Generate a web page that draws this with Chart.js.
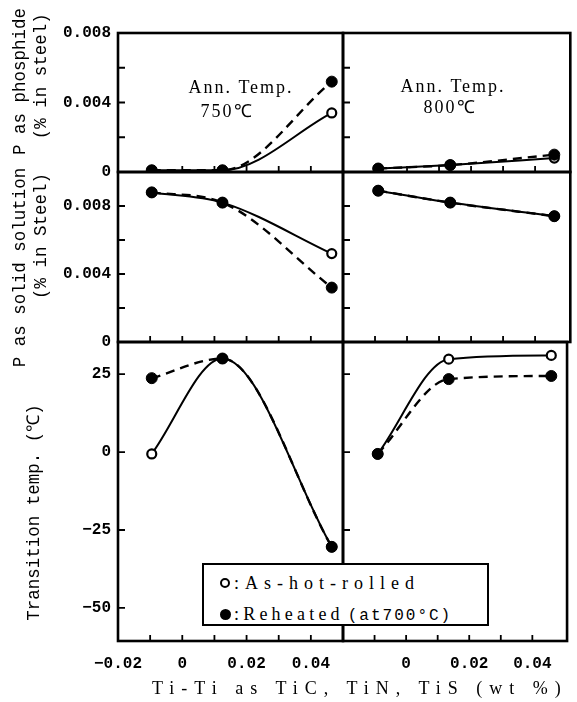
<!DOCTYPE html>
<html>
<head>
<meta charset="utf-8">
<script src="https://cdn.jsdelivr.net/npm/chart.js@4.4.0/dist/chart.umd.min.js"></script>
<style>
  html, body { margin: 0; padding: 0; background: #fff; }
  #wrap { position: relative; width: 577px; height: 702px; overflow: hidden; }
  #wrap canvas { position: absolute; left: 0; top: 0; }
  #legend { position: absolute; left: 202px; top: 563px; width: 287px; height: 63px; box-sizing: border-box;
            border: 2.5px solid #000; background: #fff; z-index: 5; }
  #legend .mk { position: absolute; border-radius: 50%; box-sizing: border-box; }
  #legend .tx { position: absolute; white-space: nowrap; font-family: "Liberation Serif", serif; font-size: 18px; color: #000; line-height: 20px; }
  #xtitle { position: absolute; left: 152px; top: 678px; white-space: nowrap; font-family: "Liberation Serif", serif;
            font-size: 18px; letter-spacing: 7px; color: #000; z-index: 5; line-height: 20px; }
</style>
</head>
<body>
<div id="wrap">
  <canvas id="tl" width="577" height="702"></canvas>
  <canvas id="tr" width="577" height="702"></canvas>
  <canvas id="ml" width="577" height="702"></canvas>
  <canvas id="mr" width="577" height="702"></canvas>
  <canvas id="bl" width="577" height="702"></canvas>
  <canvas id="br" width="577" height="702"></canvas>
  <div id="legend">
    <span class="mk" style="left:16px; top:13px; width:10px; height:10px; border:2.5px solid #000; background:#fff;"></span>
    <span class="tx" style="left:30px; top:7.5px; letter-spacing:6px;">:As-hot-rolled</span>
    <span class="mk" style="left:16px; top:43.5px; width:11px; height:11px; background:#000;"></span>
    <span class="tx" style="left:30px; top:38.5px; letter-spacing:4.2px;">:Reheated<span style="font-family:'Liberation Mono',monospace; font-size:16px; letter-spacing:2px; margin-left:4px;">(at700°C)</span></span>
  </div>
  <div id="xtitle">Ti-Ti as TiC, TiN, TiS (wt %)</div>
</div>
<script>
// Ti-Ti content (wt %) of the three steels
const xLeft = [-0.0095, 0.0125, 0.0465];
const xRight = [-0.009, 0.0135, 0.046];

// P as phosphide (% in steel)
const phosLeftHot = [0.0001, 0.0001, 0.0034];
const phosLeftReheat = [0.0001, 0.0001, 0.0052];
const phosRightHot = [0.0002, 0.0004, 0.0008];
const phosRightReheat = [0.0002, 0.0004, 0.001];

// P as solid solution (% in steel)
const solLeftHot = [0.0088, 0.0082, 0.0052];
const solLeftReheat = [0.0088, 0.0082, 0.0032];
const solRightHot = [0.0089, 0.0082, 0.0074];
const solRightReheat = [0.0089, 0.0082, 0.0074];

// Transition temp. (C)
const transLeftHot = [-0.6, 30, -30.4];
const transLeftReheat = [23.7, 30, -30.4];
const transRightHot = [-0.6, 29.8, 31];
const transRightReheat = [-0.6, 23.4, 24.4];

// ticks and tick labels
const xTicks = [-0.02, -0.01, 0, 0.01, 0.02, 0.03, 0.04, 0.05];
const xLabelsLeft = [-0.02, 0, 0.02, 0.04];
const xLabelsRight = [0, 0.02, 0.04];
const pTicks = [0, 0.002, 0.004, 0.006, 0.008];
const pLabels = [0, 0.004, 0.008];
const tTicks = [-50, -25, 0, 25];
const tLabels = [-50, -25, 0, 25];

const W = 577, H = 702;
const has = (arr, v) => arr.some(a => Math.abs(a - v) < 1e-9);
const minus = s => s.replace('-', '\u2212');

const cols = {
  left: { x0: 118, x1: 343, min: -0.02, max: 0.05, labels: xLabelsLeft },
  right: { x0: 343, x1: 572, min: -0.02, max: 0.051, labels: xLabelsRight }
};
const rows = {
  top: { y0: 33, y1: 172, min: 0, max: 0.008, ticks: pTicks, labels: pLabels,
         fmt: v => v === 0 ? '0' : v.toFixed(3), title: ['    P as phosphide', '     (% in steel)'] },
  mid: { y0: 172, y1: 342, min: 0, max: 0.01, ticks: pTicks, labels: pLabels,
         fmt: v => v === 0 ? '0' : v.toFixed(3), title: ['P as solid solution  ', '    (% in Steel)'] },
  bot: { y0: 342, y1: 641, min: -60.6, max: 35.3, ticks: tTicks, labels: tLabels,
         fmt: v => minus(String(v)), title: ['Transition temp. (\u2103)    '] }
};

const framePlugin = {
  id: 'panelFrame',
  beforeDatasetsDraw(chart, args, opts) {
    const { ctx, chartArea: a } = chart;
    const x = chart.scales.x, y = chart.scales.y;
    ctx.save();
    ctx.strokeStyle = '#000';
    ctx.lineWidth = 2.6;
    ctx.strokeRect(a.left, a.top, a.right - a.left, a.bottom - a.top);
    // inward tick marks
    ctx.lineWidth = 1.8;
    ctx.beginPath();
    x.ticks.forEach(t => {
      const px = x.getPixelForValue(t.value);
      if (px < a.left + 5 || px > a.right - 5) return;
      ctx.moveTo(px, a.bottom);
      ctx.lineTo(px, a.bottom - 6);
    });
    y.ticks.forEach(t => {
      const py = y.getPixelForValue(t.value);
      if (py < a.top + 5 || py > a.bottom - 5) return;
      ctx.moveTo(a.left, py);
      ctx.lineTo(a.left + 7, py);
    });
    ctx.stroke();
    // panel notes
    ctx.fillStyle = '#000';
    ctx.font = '18px "Liberation Serif", serif';
    ctx.letterSpacing = '2px';
    ctx.textAlign = 'center';
    ctx.textBaseline = 'middle';
    (opts.notes || []).forEach(n => ctx.fillText(n.text, n.x, n.y));
    ctx.restore();
  }
};

function makePanel(id, col, row, xs, hot, reheat, notes) {
  const isLeft = col === cols.left;
  const isBottom = row === rows.bot;
  new Chart(document.getElementById(id), {
    type: 'line',
    data: {
      datasets: [
        {
          label: 'Reheated (at700°C)',
          data: xs.map((x, i) => ({ x: x, y: reheat[i] })),
          borderColor: '#000', borderWidth: 2.4, borderDash: [9, 6],
          pointRadius: 5.5, pointBackgroundColor: '#000', pointBorderColor: '#000', pointBorderWidth: 1,
          cubicInterpolationMode: 'monotone', fill: false
        },
        {
          label: 'As-hot-rolled',
          data: xs.map((x, i) => ({ x: x, y: hot[i] })),
          borderColor: '#000', borderWidth: 2,
          pointRadius: 4.5, pointBackgroundColor: '#fff', pointBorderColor: '#000', pointBorderWidth: 2.2,
          cubicInterpolationMode: 'monotone', fill: false
        }
      ]
    },
    options: {
      responsive: false,
      animation: false,
      layout: { padding: { left: isLeft ? 0 : col.x0, right: W - col.x1, top: row.y0, bottom: isBottom ? 0 : H - row.y1 } },
      plugins: { legend: { display: false }, tooltip: { enabled: false }, panelFrame: { notes: notes || [] } },
      scales: {
        x: {
          type: 'linear', min: col.min, max: col.max,
          afterBuildTicks: s => { s.ticks = xTicks.map(v => ({ value: v })); },
          afterFit: s => { s.height = isBottom ? H - row.y1 : 0; },
          grid: { display: false, drawTicks: false },
          border: { display: false },
          ticks: {
            display: isBottom, padding: 13, color: '#000', autoSkip: false, maxRotation: 0,
            font: { family: 'Liberation Mono', size: 16, weight: 'bold' },
            callback: v => has(col.labels, v) ? (v === 0 ? '0' : minus(v.toFixed(2))) : ''
          }
        },
        y: {
          type: 'linear', min: row.min, max: row.max,
          afterBuildTicks: s => { s.ticks = row.ticks.map(v => ({ value: v })); },
          afterFit: s => { s.width = isLeft ? col.x0 : 0; },
          grid: { display: false, drawTicks: false },
          border: { display: false },
          ticks: {
            display: isLeft, padding: 7, color: '#000', autoSkip: false,
            font: { family: 'Liberation Mono', size: 16, weight: 'bold' },
            callback: v => has(row.labels, v) ? row.fmt(v) : ''
          },
          title: {
            display: isLeft, text: row.title, color: '#000',
            font: { family: 'Liberation Mono', size: 17.5, lineHeight: 1.2 },
            padding: { top: isBottom ? 24 : 10, bottom: 0 }
          }
        }
      }
    },
    plugins: [framePlugin]
  });
}

makePanel('tl', cols.left, rows.top, xLeft, phosLeftHot, phosLeftReheat,
  [{ text: 'Ann. Temp.', x: 241, y: 88 }, { text: '750\u2103', x: 227, y: 112 }]);
makePanel('tr', cols.right, rows.top, xRight, phosRightHot, phosRightReheat,
  [{ text: 'Ann. Temp.', x: 453, y: 87 }, { text: '800\u2103', x: 450, y: 108 }]);
makePanel('ml', cols.left, rows.mid, xLeft, solLeftHot, solLeftReheat);
makePanel('mr', cols.right, rows.mid, xRight, solRightHot, solRightReheat);
makePanel('bl', cols.left, rows.bot, xLeft, transLeftHot, transLeftReheat);
makePanel('br', cols.right, rows.bot, xRight, transRightHot, transRightReheat);
</script>
</body>
</html>
